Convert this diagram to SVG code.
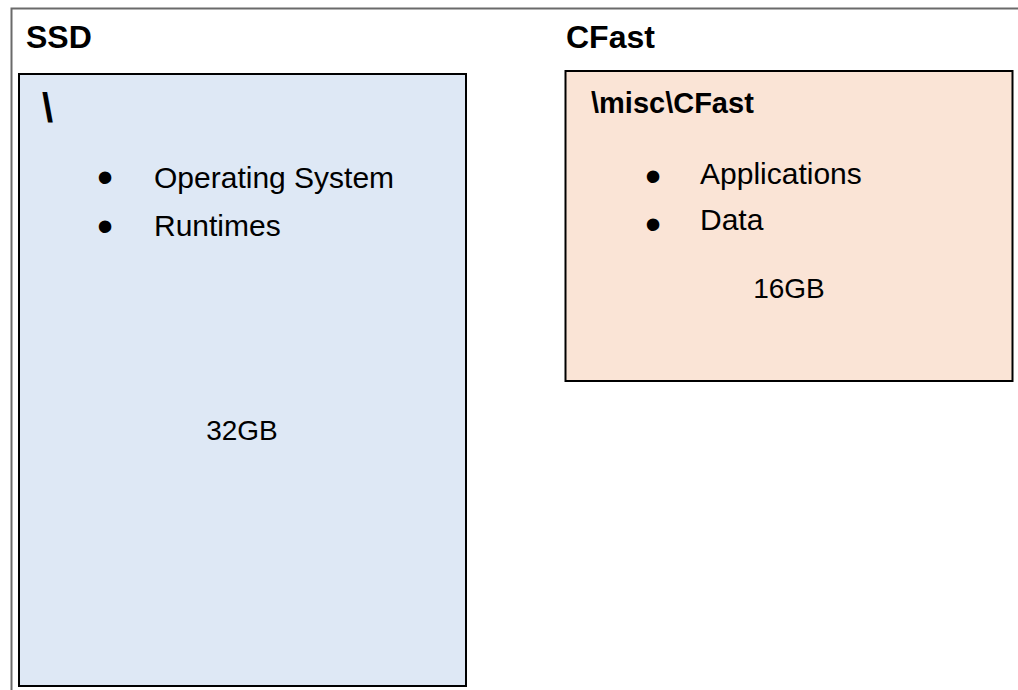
<svg xmlns="http://www.w3.org/2000/svg" width="1018" height="690" viewBox="0 0 1018 690">
  <style>
    text { font-family: "Liberation Sans", Arial, sans-serif; fill: #000; }
    .head { font-size: 32px; font-weight: bold; }
    .title { font-weight: bold; }
    .item { font-size: 30px; }
    .bullet { font-size: 46px; text-anchor: middle; }
    .size { font-size: 28px; }
    .box { stroke: #000; stroke-width: 2; }
  </style>
  <rect x="0" y="0" width="1018" height="690" fill="#fff"/>
  <g id="frame">
    <polyline points="1018,8.5 11.5,8.5 11.5,690" fill="none" stroke="#6a6a6a" stroke-width="2"/>
  </g>
  <g id="ssd">
    <text class="head" x="26" y="47.5">SSD</text>
    <rect class="box" x="19" y="74" width="447" height="612" fill="#DEE8F5"/>
    <text class="title" x="42" y="122" font-size="40">\</text>
    <text class="bullet" x="105" y="193">•</text>
    <text class="item" x="154" y="188">Operating System</text>
    <text class="bullet" x="105" y="242">•</text>
    <text class="item" x="154" y="236">Runtimes</text>
    <text class="size" x="242" y="440" text-anchor="middle">32GB</text>
  </g>
  <g id="cfast">
    <text class="head" x="566" y="48" font-size="36">CFast</text>
    <rect class="box" x="565.5" y="71" width="447" height="310" fill="#FAE4D6"/>
    <text class="title" x="591" y="113" font-size="29">\misc\CFast</text>
    <text class="bullet" x="653" y="192">•</text>
    <text class="item" x="700" y="184">Applications</text>
    <text class="bullet" x="653" y="240">•</text>
    <text class="item" x="700" y="230">Data</text>
    <text class="size" x="789" y="298" text-anchor="middle">16GB</text>
  </g>
  <g id="connectors"></g>
</svg>
